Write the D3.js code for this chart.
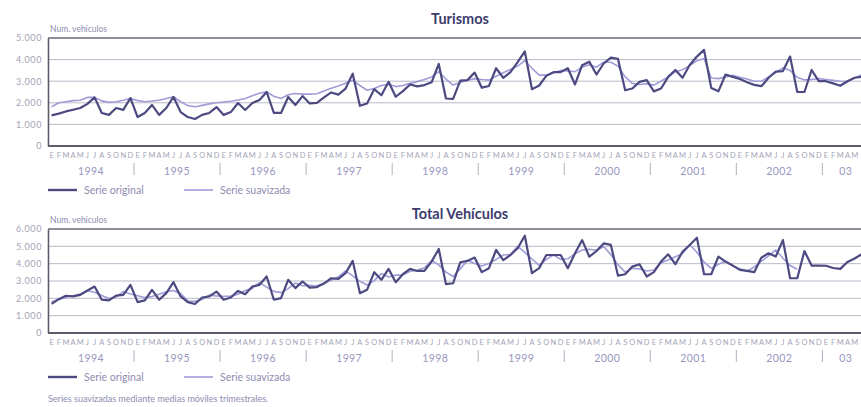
<!DOCTYPE html>
<html>
<head>
<meta charset="utf-8">
<script src="https://cdn.jsdelivr.net/npm/d3@7"></script>
<style>
  html, body { margin: 0; padding: 0; background: #ffffff; }
  svg { display: block; overflow: hidden; }
  text { font-family: Lato, "Open Sans", sans-serif; }
</style>
</head>
<body>
<svg id="chart" width="861" height="407"></svg>
<script>
// Monthly series, Jan 1994 .. Jun 2003
const monthLetters = ['E', 'F', 'M', 'A', 'M', 'J', 'J', 'A', 'S', 'O', 'N', 'D'];
const yearLabels = ['1994', '1995', '1996', '1997', '1998', '1999', '2000', '2001', '2002', '03'];

const turismosOriginal = [
  1420, 1500, 1600, 1680, 1760, 1950, 2250, 1530, 1440, 1760, 1670, 2220,
  1340, 1530, 1900, 1440, 1760, 2270, 1570, 1340, 1250, 1440, 1530, 1800,
  1440, 1570, 1990, 1670, 1990, 2130, 2500, 1530, 1530, 2270, 1900, 2310,
  1970, 2000, 2250, 2480, 2380, 2660, 3350, 1860, 1970, 2630, 2350, 2970,
  2280, 2540, 2850, 2760, 2820, 2950, 3800, 2200, 2180, 3030, 3050, 3400,
  2700, 2780, 3600, 3150, 3420, 3880, 4380, 2630, 2800, 3250, 3420, 3420,
  3600, 2850, 3740, 3900, 3310, 3820, 4090, 4030, 2580, 2660, 2970, 3050,
  2530, 2660, 3200, 3520, 3160, 3750, 4140, 4450, 2690, 2530, 3310, 3200,
  3100, 2950, 2830, 2770, 3160, 3440, 3470, 4140, 2500, 2500, 3520, 3000,
  3000, 2900, 2790, 3000, 3160, 3200
];
const turismosSuavizada = [
  1820, 2000, 2050, 2100, 2120, 2250, 2250, 2090, 2020, 2050, 2120, 2200,
  2100, 2050, 2080, 2120, 2200, 2280, 2050, 1870, 1820, 1880, 1950, 2000,
  2030, 2070, 2130, 2200, 2330, 2440, 2510, 2300, 2200, 2370, 2430, 2400,
  2400, 2420, 2550, 2670, 2780, 2900, 3040, 2800, 2580, 2660, 2800, 2860,
  2750, 2800, 2900, 2980, 3080, 3200, 3440, 3100, 2820, 2940, 3040, 3120,
  3080, 3050, 3230, 3390, 3540, 3700, 3950, 3600, 3280, 3280, 3380, 3500,
  3480, 3440, 3650, 3760, 3650, 3880, 3880, 3700, 3200, 2900, 2850, 2880,
  2820, 3000, 3200, 3440, 3530, 3720, 3950, 4050, 3150, 3120, 3200, 3270,
  3180, 3100, 3000, 3000, 3200, 3400, 3620, 3500, 3180, 3060, 3080, 3120,
  3080, 3040, 3000, 2980, 3150, 3300
];
const totalOriginal = [
  1680, 1950, 2150, 2110, 2200, 2450, 2680, 1920, 1880, 2160, 2200, 2780,
  1780, 1880, 2490, 1920, 2300, 2930, 2110, 1780, 1670, 2050, 2110, 2390,
  1920, 2050, 2430, 2240, 2680, 2780, 3260, 1920, 2010, 3070, 2590, 2970,
  2620, 2650, 2850, 3160, 3120, 3450, 4160, 2300, 2490, 3510, 3070, 3700,
  2930, 3390, 3700, 3580, 3580, 4120, 4850, 2820, 2870, 4080, 4160, 4350,
  3510, 3740, 4790, 4210, 4500, 4890, 5610, 3450, 3740, 4500, 4500, 4500,
  3740, 4600, 5360, 4400, 4730, 5170, 5080, 3310, 3390, 3830, 3970, 3260,
  3510, 4120, 4540, 3970, 4690, 5080, 5500, 3390, 3390, 4410, 4120, 3890,
  3640, 3580, 3510, 4350, 4600, 4410, 5360, 3160, 3160, 4730, 3890, 3890,
  3880, 3750, 3700, 4100, 4300, 4550
];
const totalSuavizada = [
  1800, 1930, 2070, 2150, 2250, 2440, 2350, 2160, 1990, 2080, 2380, 2250,
  2150, 2050, 2100, 2240, 2380, 2450, 2270, 1850, 1830, 1940, 2180, 2140,
  2120, 2130, 2240, 2450, 2570, 2910, 2650, 2400, 2330, 2560, 2880, 2730,
  2750, 2710, 2890, 3040, 3240, 3580, 3300, 2980, 2770, 3020, 3430, 3230,
  3340, 3340, 3560, 3620, 3760, 4180, 3930, 3510, 3260, 3700, 4200, 4010,
  3870, 4010, 4250, 4500, 4530, 5000, 4650, 4270, 3900, 4250, 4500, 4250,
  4280, 4570, 4790, 4830, 4770, 4990, 4520, 3930, 3510, 3730, 3690, 3580,
  3630, 4060, 4210, 4400, 4580, 5090, 4660, 4090, 3730, 3970, 4140, 3880,
  3700, 3580, 3810, 4150, 4450, 4790, 4310, 3890, 3680
];

const turismosTicks = [0, 1000, 2000, 3000, 4000, 5000];
const totalTicks = [0, 1000, 2000, 3000, 4000, 5000, 6000];

const colorOriginal = '#4c4a80';
const colorSuavizada = '#a19bd8';
const colorText = '#8e8cb0';
const colorTitle = '#3e3d6e';

const svg = d3.select('#chart');
const esLocale = d3.formatLocale({ decimal: ',', thousands: '.', grouping: [3], currency: ['', ' €'] });
const fmt = esLocale.format(',');

const width = 861;
const nMonths = 114;
const monthW = 7.17;
const x = d3.scaleLinear()
  .domain([0, nMonths])
  .range([48, 48 + nMonths * monthW]);

// centre of a year's slot, kept inside the visible area for the cut-off last year
function yearCenter(k) {
  const a = x(k * 12), b = Math.min(x(k * 12 + 12), width);
  return b < x(k * 12 + 12) ? (a + b) / 2 + 4 : (a + b) / 2;
}

function drawChart(opt) {
  const g = svg.append('g');

  const y = d3.scaleLinear()
    .domain([0, d3.max(opt.ticks)])
    .range([opt.bottom, opt.top]);

  // Title
  g.append('text')
    .attr('x', 460)
    .attr('y', opt.titleY)
    .attr('text-anchor', 'middle')
    .attr('font-size', 14.5)
    .attr('font-weight', 'bold')
    .attr('fill', colorTitle)
    .text(opt.title);

  // Unit label
  g.append('text')
    .attr('x', 50)
    .attr('y', opt.top - 6)
    .attr('font-size', 8.5)
    .attr('fill', colorText)
    .text('Num. vehículos');

  // Grid lines
  g.selectAll('.grid')
    .data(opt.ticks.filter(d => d > 0 && d < d3.max(opt.ticks)))
    .join('line')
    .attr('x1', 48)
    .attr('x2', width)
    .attr('y1', d => y(d))
    .attr('y2', d => y(d))
    .attr('stroke', '#b9b8c8')
    .attr('stroke-width', 1);

  // Top border
  g.append('line')
    .attr('x1', 48).attr('x2', width)
    .attr('y1', y(d3.max(opt.ticks))).attr('y2', y(d3.max(opt.ticks)))
    .attr('stroke', '#6a6a78')
    .attr('stroke-width', 1.4);

  // Y axis
  const yAxis = g.append('g')
    .attr('transform', 'translate(48,0)')
    .call(d3.axisLeft(y).tickValues(opt.ticks).tickSize(0).tickPadding(6).tickFormat(fmt));
  yAxis.select('.domain').attr('stroke', '#5c5c6c').attr('stroke-width', 1.6);
  yAxis.selectAll('.tick text')
    .attr('font-family', 'Lato, "Open Sans", sans-serif')
    .attr('font-size', 9)
    .attr('letter-spacing', 0.6)
    .attr('fill', '#a2a2b4');

  // Bottom axis line
  g.append('line')
    .attr('x1', 48).attr('x2', width)
    .attr('y1', y(0)).attr('y2', y(0))
    .attr('stroke', '#5c5c6c')
    .attr('stroke-width', 2);

  // Month letters (only those that fit in the window)
  const monthIdx = d3.range(nMonths).filter(i => x(i + 0.5) + 4 <= width);
  g.selectAll('.month')
    .data(monthIdx)
    .join('text')
    .attr('x', i => x(i + 0.5))
    .attr('y', opt.bottom + 12)
    .attr('text-anchor', 'middle')
    .attr('font-size', 7.5)
    .attr('fill', '#a4a4b8')
    .text(i => monthLetters[i % 12]);

  // Year separators
  g.selectAll('.sep')
    .data(d3.range(1, yearLabels.length))
    .join('line')
    .attr('x1', k => x(k * 12))
    .attr('x2', k => x(k * 12))
    .attr('y1', opt.bottom + 17)
    .attr('y2', opt.bottom + 29)
    .attr('stroke', '#b0b0c0')
    .attr('stroke-width', 1);

  // Year labels
  g.selectAll('.year')
    .data(yearLabels)
    .join('text')
    .attr('x', (d, k) => yearCenter(k))
    .attr('y', opt.bottom + 29)
    .attr('text-anchor', 'middle')
    .attr('font-size', 10.5)
    .attr('letter-spacing', 0.4)
    .attr('fill', '#9896c0')
    .text(d => d);

  // Series
  const line = d3.line()
    .x((d, i) => x(i + 0.5))
    .y(d => y(d));

  g.append('path')
    .datum(opt.suavizada)
    .attr('d', line)
    .attr('fill', 'none')
    .attr('stroke', colorSuavizada)
    .attr('stroke-width', 1.6)
    .attr('stroke-linejoin', 'round');

  g.append('path')
    .datum(opt.original)
    .attr('d', line)
    .attr('fill', 'none')
    .attr('stroke', colorOriginal)
    .attr('stroke-width', 2.2)
    .attr('stroke-linejoin', 'round');

  // Legend
  const ly = opt.legendY;
  const legend = [
    { name: 'Serie original', color: colorOriginal, w: 2.4, x0: 48 },
    { name: 'Serie suavizada', color: colorSuavizada, w: 1.6, x0: 184 }
  ];
  legend.forEach(l => {
    g.append('line')
      .attr('x1', l.x0).attr('x2', l.x0 + 29)
      .attr('y1', ly).attr('y2', ly)
      .attr('stroke', l.color)
      .attr('stroke-width', l.w);
    g.append('text')
      .attr('x', l.x0 + 36)
      .attr('y', ly + 3.5)
      .attr('font-size', 10.5)
      .attr('fill', colorText)
      .text(l.name);
  });
}

drawChart({
  title: 'Turismos',
  titleY: 24,
  top: 38,
  bottom: 146,
  ticks: turismosTicks,
  original: turismosOriginal,
  suavizada: turismosSuavizada,
  legendY: 190
});

drawChart({
  title: 'Total Vehículos',
  titleY: 219,
  top: 229,
  bottom: 333,
  ticks: totalTicks,
  original: totalOriginal,
  suavizada: totalSuavizada,
  legendY: 377
});

// Footnote
svg.append('text')
  .attr('x', 48)
  .attr('y', 402)
  .attr('font-size', 9)
  .attr('fill', colorText)
  .text('Series suavizadas mediante medias móviles trimestrales.');
</script>
</body>
</html>
